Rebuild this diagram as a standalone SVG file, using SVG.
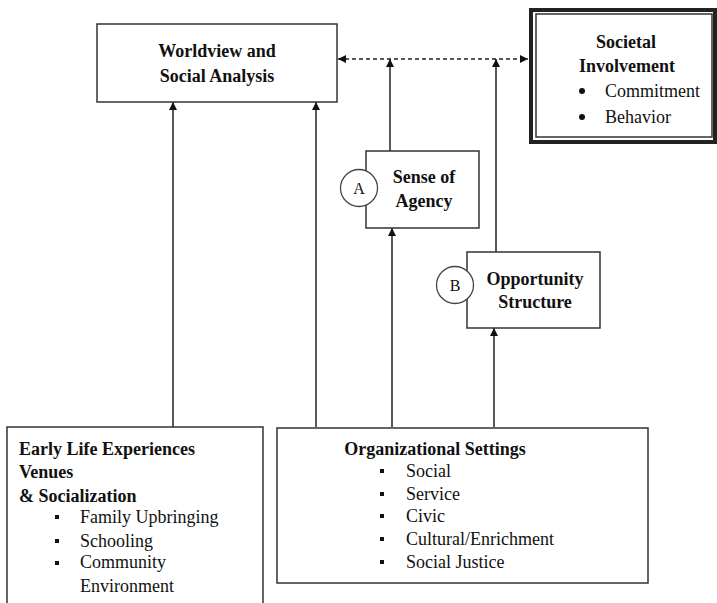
<svg xmlns="http://www.w3.org/2000/svg" width="717" height="603" viewBox="0 0 717 603">
<style>
  .box { fill: #fff; stroke: #333; stroke-width: 1.5; }
  .t { font-family: "Liberation Serif", "Times New Roman", serif; font-size: 18px; fill: #111; }
  .b { font-weight: bold; }
  .m { text-anchor: middle; }
  .conn { stroke: #222; stroke-width: 1.5; fill: none; }
  .dash { stroke: #222; stroke-width: 1.5; fill: none; stroke-dasharray: 4 3; }
  .circ { fill: #fff; stroke: #444; stroke-width: 1.3; }
</style>
<defs>
  <marker id="ah" viewBox="0 0 10 10" refX="10" refY="5" markerWidth="8" markerHeight="8" markerUnits="userSpaceOnUse" orient="auto-start-reverse">
    <path d="M0,0 L10,5 L0,10 z" fill="#111"/>
  </marker>
</defs>
<rect width="717" height="603" fill="#fff"/>

<g id="connectors">
  <line class="conn" x1="173" y1="427" x2="173" y2="102" marker-end="url(#ah)"/>
  <line class="conn" x1="316" y1="427" x2="316" y2="102" marker-end="url(#ah)"/>
  <line class="conn" x1="392" y1="427" x2="392" y2="228" marker-end="url(#ah)"/>
  <line class="conn" x1="494" y1="427" x2="494" y2="328" marker-end="url(#ah)"/>
  <line class="conn" x1="390" y1="151" x2="390" y2="59" marker-end="url(#ah)"/>
  <line class="conn" x1="496" y1="252" x2="496" y2="59" marker-end="url(#ah)"/>
  <line class="dash" x1="338" y1="59" x2="528" y2="59" marker-start="url(#ah)" marker-end="url(#ah)"/>
</g>

<g id="worldview">
  <rect class="box" x="97" y="24" width="240" height="78"/>
  <text class="t b m" x="217" y="57">Worldview and</text>
  <text class="t b m" x="217" y="82">Social Analysis</text>
</g>

<g id="societal">
  <rect x="531" y="10" width="184" height="132" fill="#fff" stroke="#222" stroke-width="4"/>
  <rect x="536" y="14" width="176" height="123" fill="none" stroke="#333" stroke-width="1.5"/>
  <text class="t b m" x="626" y="48">Societal</text>
  <text class="t b m" x="627" y="72">Involvement</text>
  <circle cx="582" cy="91" r="3" fill="#111"/>
  <text class="t" x="605" y="97">Commitment</text>
  <circle cx="582" cy="117" r="3" fill="#111"/>
  <text class="t" x="605" y="123">Behavior</text>
</g>

<g id="agency">
  <rect class="box" x="366" y="151" width="113" height="77"/>
  <circle class="circ" cx="359" cy="188" r="18.5"/>
  <text class="t m" x="359" y="194" style="font-size:16px">A</text>
  <text class="t b m" x="424" y="183">Sense of</text>
  <text class="t b m" x="424" y="207">Agency</text>
</g>

<g id="opportunity">
  <rect class="box" x="467" y="252" width="133" height="76"/>
  <circle class="circ" cx="455" cy="285" r="18.5"/>
  <text class="t m" x="455" y="291" style="font-size:16px">B</text>
  <text class="t b m" x="535" y="285">Opportunity</text>
  <text class="t b m" x="535" y="308">Structure</text>
</g>

<g id="earlylife">
  <rect class="box" x="7" y="427" width="256" height="190"/>
  <text class="t b" x="19" y="455">Early Life Experiences</text>
  <text class="t b" x="19" y="478">Venues</text>
  <text class="t b" x="19" y="502">&amp; Socialization</text>
  <rect x="55" y="515" width="4" height="4" fill="#111"/>
  <text class="t" x="80" y="523">Family Upbringing</text>
  <rect x="55" y="539" width="4" height="4" fill="#111"/>
  <text class="t" x="80" y="547">Schooling</text>
  <rect x="55" y="561" width="4" height="4" fill="#111"/>
  <text class="t" x="80" y="568">Community</text>
  <text class="t" x="80" y="592">Environment</text>
</g>

<g id="organizational">
  <rect class="box" x="277" y="428" width="371" height="155"/>
  <text class="t b m" x="435" y="455">Organizational Settings</text>
  <rect x="380" y="469" width="4" height="4" fill="#111"/>
  <text class="t" x="406" y="477">Social</text>
  <rect x="380" y="492" width="4" height="4" fill="#111"/>
  <text class="t" x="406" y="500">Service</text>
  <rect x="380" y="514" width="4" height="4" fill="#111"/>
  <text class="t" x="406" y="522">Civic</text>
  <rect x="380" y="537" width="4" height="4" fill="#111"/>
  <text class="t" x="406" y="545">Cultural/Enrichment</text>
  <rect x="380" y="560" width="4" height="4" fill="#111"/>
  <text class="t" x="406" y="568">Social Justice</text>
</g>
</svg>
